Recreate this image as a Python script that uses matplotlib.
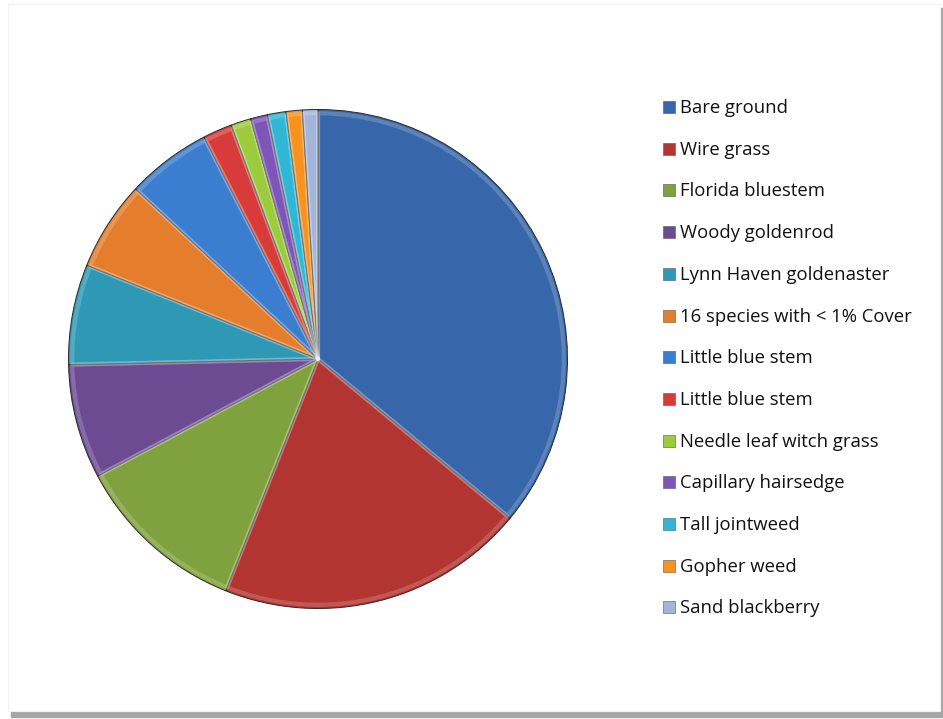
import matplotlib.pyplot as plt
from matplotlib.patches import Rectangle

# Ground cover composition (% cover)
species = ['Bare ground', 'Wire grass', 'Florida bluestem', 'Woody goldenrod',
           'Lynn Haven goldenaster', '16 species with < 1% Cover', 'Little blue stem',
           'Little blue stem', 'Needle leaf witch grass', 'Capillary hairsedge',
           'Tall jointweed', 'Gopher weed', 'Sand blackberry']
cover = [36.0, 20.0, 11.2, 7.4, 6.5, 5.8, 5.5, 1.9, 1.3, 1.1, 1.2, 1.05, 1.0]
colors = ['#3767AA', '#B23531', '#80A23E', '#6C4B93', '#2F98B4', '#E47E2C',
          '#3B7ECF', '#D83C3A', '#9DCB3E', '#7E55B8', '#32B6D6', '#F7921E', '#A3B6DA']

W, H = 943, 719
fig = plt.figure(figsize=(W / 100, H / 100), dpi=100)
fig.patch.set_facecolor('white')

# chart area frame with drop shadow
frame_ax = fig.add_axes([0, 0, 1, 1])
frame_ax.set_xlim(0, W)
frame_ax.set_ylim(H, 0)
frame_ax.axis('off')
frame_ax.add_patch(Rectangle((11, 8), 932, 709, color='#A6A6A6', zorder=0))
frame_ax.add_patch(Rectangle((8, 4), 932, 707, facecolor='white',
                             edgecolor='#F2F2F2', lw=0.8, zorder=1))

# pie
cx, cy, r = 318, 359, 252
ax = fig.add_axes([(cx - r) / W, (H - cy - r) / H, 2 * r / W, 2 * r / H])
wedges, _ = ax.pie(cover, colors=colors, startangle=90, counterclock=False,
                   radius=1.0, wedgeprops=dict(edgecolor='#2A2A2A', linewidth=0.7))
# soft bevel highlight along slice edges
ax.pie(cover, colors=['none'] * len(cover), startangle=90, counterclock=False,
       radius=0.985, wedgeprops=dict(edgecolor=(1, 1, 1, 0.18), linewidth=3,
                                     joinstyle='round'))
ax.set_xlim(-1.01, 1.01)
ax.set_ylim(-1.01, 1.01)
ax.axis('off')

# legend
x0, y0, step = 663, 107, 41.7
for i, (name, col) in enumerate(zip(species, colors)):
    y = y0 + i * step
    frame_ax.add_patch(Rectangle((x0, y - 6), 12, 12, facecolor=col,
                                 edgecolor='#555555', lw=0.4, zorder=3))
    frame_ax.text(x0 + 17, y + 1, name, fontsize=13.3, family='Open Sans',
                  color='#111111', va='center', ha='left', zorder=3)

fig.savefig('out.png', dpi=100)
